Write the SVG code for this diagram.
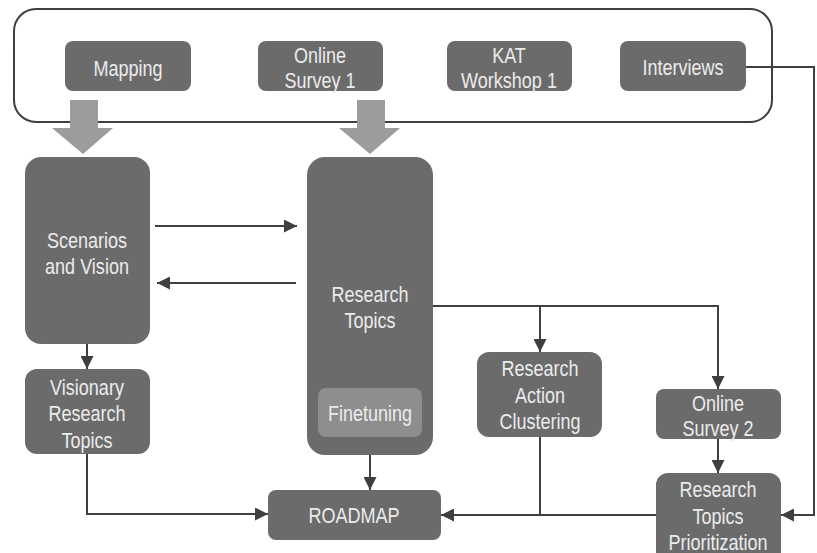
<svg xmlns="http://www.w3.org/2000/svg" width="817" height="553" viewBox="0 0 817 553">
  <style>
    .box { fill: #6b6b6b; }
    .sub { fill: #8e8e8e; }
    .lbl { font-family: "Liberation Sans", Arial, sans-serif; font-size: 22px; fill: #ececec; text-anchor: middle; }
    .wire { fill: none; stroke: #3f3f3f; stroke-width: 2; }
    .big { fill: #9c9c9c; }
  </style>
  <defs>
    <marker id="head" markerUnits="userSpaceOnUse" markerWidth="13" markerHeight="13" refX="13" refY="6.5" orient="auto">
      <path d="M0,0 L13,6.5 L0,13 z" fill="#3f3f3f"/>
    </marker>
  </defs>
  <rect width="817" height="553" fill="#ffffff"/>

  <!-- input methods frame -->
  <rect id="inputs-frame" x="14" y="9" width="758" height="113" rx="22" fill="none" stroke="#3f3f3f" stroke-width="2"/>

  <!-- labels use a condensed look: Liberation Sans squeezed horizontally -->
  <g id="mapping">
    <rect class="box" x="65" y="41" width="126" height="50" rx="8"/>
    <text class="lbl" transform="translate(128,76) scale(0.82,1)">Mapping</text>
  </g>
  <g id="online-survey-1">
    <rect class="box" x="258" y="41" width="125" height="50" rx="8"/>
    <text class="lbl" transform="translate(320,63) scale(0.82,1)">Online</text>
    <text class="lbl" transform="translate(320,88) scale(0.82,1)">Survey 1</text>
  </g>
  <g id="kat-workshop-1">
    <rect class="box" x="447" y="41" width="125" height="50" rx="8"/>
    <text class="lbl" transform="translate(509,63) scale(0.82,1)">KAT</text>
    <text class="lbl" transform="translate(509,88) scale(0.82,1)">Workshop 1</text>
  </g>
  <g id="interviews">
    <rect class="box" x="620" y="41" width="126" height="50" rx="8"/>
    <text class="lbl" transform="translate(683,75) scale(0.82,1)">Interviews</text>
  </g>

  <!-- wide feed arrows -->
  <path class="big" d="M70,100 H98 V128 H113 L83,154 L52,128 H70 Z"/>
  <path class="big" d="M357,100 H385 V128 H400 L370,154 L339,128 H357 Z"/>

  <g id="scenarios-vision">
    <rect class="box" x="25" y="157" width="125" height="187" rx="16"/>
    <text class="lbl" transform="translate(87,248) scale(0.82,1)">Scenarios</text>
    <text class="lbl" transform="translate(87,274) scale(0.82,1)">and Vision</text>
  </g>
  <g id="research-topics">
    <rect class="box" x="307" y="157" width="126" height="298" rx="18"/>
    <text class="lbl" transform="translate(370,302) scale(0.82,1)">Research</text>
    <text class="lbl" transform="translate(370,328) scale(0.82,1)">Topics</text>
    <g id="finetuning">
      <rect class="sub" x="318" y="388" width="104" height="49" rx="8"/>
      <text class="lbl" transform="translate(370,421) scale(0.82,1)">Finetuning</text>
    </g>
  </g>
  <g id="visionary-topics">
    <rect class="box" x="25" y="369" width="125" height="85" rx="12"/>
    <text class="lbl" transform="translate(87,395) scale(0.82,1)">Visionary</text>
    <text class="lbl" transform="translate(87,421) scale(0.82,1)">Research</text>
    <text class="lbl" transform="translate(87,448) scale(0.82,1)">Topics</text>
  </g>
  <g id="action-clustering">
    <rect class="box" x="477" y="352" width="125" height="85" rx="12"/>
    <text class="lbl" transform="translate(540,376) scale(0.82,1)">Research</text>
    <text class="lbl" transform="translate(540,403) scale(0.82,1)">Action</text>
    <text class="lbl" transform="translate(540,429) scale(0.82,1)">Clustering</text>
  </g>
  <g id="online-survey-2">
    <rect class="box" x="656" y="389" width="125" height="50" rx="8"/>
    <text class="lbl" transform="translate(718,411) scale(0.82,1)">Online</text>
    <text class="lbl" transform="translate(718,436) scale(0.82,1)">Survey 2</text>
  </g>
  <g id="prioritization">
    <rect class="box" x="656" y="473" width="125" height="95" rx="12"/>
    <text class="lbl" transform="translate(718,497) scale(0.82,1)">Research</text>
    <text class="lbl" transform="translate(718,524) scale(0.82,1)">Topics</text>
    <text class="lbl" transform="translate(718,550) scale(0.82,1)">Prioritization</text>
  </g>
  <g id="roadmap">
    <rect class="box" x="268" y="490" width="173" height="50" rx="8"/>
    <text class="lbl" transform="translate(354,523) scale(0.82,1)">ROADMAP</text>
  </g>

  <g id="connectors">
    <line class="wire" x1="155" y1="226" x2="297" y2="226" marker-end="url(#head)"/>
    <line class="wire" x1="296" y1="283" x2="157" y2="283" marker-end="url(#head)"/>
    <line class="wire" x1="87" y1="344" x2="87" y2="369" marker-end="url(#head)"/>
    <polyline class="wire" points="87,454 87,514 268,514" marker-end="url(#head)"/>
    <line class="wire" x1="370" y1="455" x2="370" y2="490" marker-end="url(#head)"/>
    <line class="wire" x1="433" y1="306" x2="718" y2="306"/>
    <line class="wire" x1="540" y1="306" x2="540" y2="352" marker-end="url(#head)"/>
    <line class="wire" x1="718" y1="305" x2="718" y2="389" marker-end="url(#head)"/>
    <line class="wire" x1="718" y1="439" x2="718" y2="473" marker-end="url(#head)"/>
    <line class="wire" x1="540" y1="437" x2="540" y2="515"/>
    <line class="wire" x1="656" y1="515" x2="441" y2="515" marker-end="url(#head)"/>
    <polyline class="wire" points="746,67 814,67 814,515 781,515" marker-end="url(#head)"/>
  </g>
</svg>
